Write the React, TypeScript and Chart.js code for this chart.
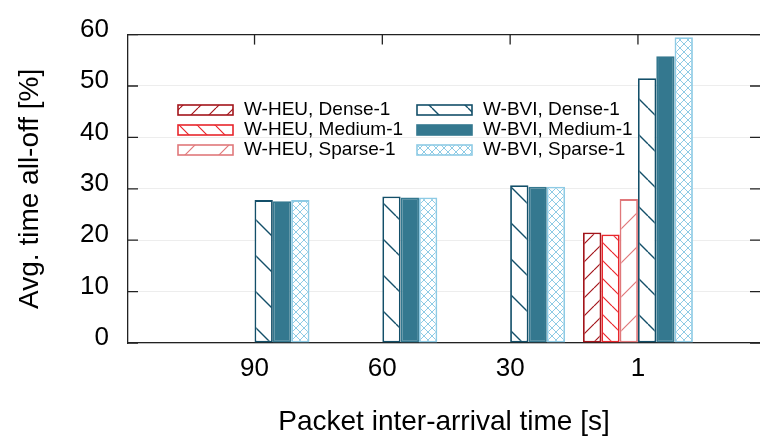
import React, { useEffect, useRef } from 'react';
import { Chart, registerables } from 'chart.js';

Chart.register(...registerables);

const categories = ['90', '60', '30', '1'];
const seriesNames = [
  'W-HEU, Dense-1',
  'W-HEU, Medium-1',
  'W-HEU, Sparse-1',
  'W-BVI, Dense-1',
  'W-BVI, Medium-1',
  'W-BVI, Sparse-1',
];
const heuDense: (number | null)[] = [null, null, null, 21.5];
const heuMedium: (number | null)[] = [null, null, null, 21.1];
const heuSparse: (number | null)[] = [null, null, null, 28.0];
const bviDense: (number | null)[] = [27.8, 28.5, 30.7, 51.5];
const bviMedium: (number | null)[] = [27.6, 28.3, 30.4, 55.8];
const bviSparse: (number | null)[] = [27.8, 28.3, 30.4, 59.5];
const yTicks = [0, 10, 20, 30, 40, 50, 60];

const FONT = '"Liberation Sans", Arial, Helvetica, sans-serif';

type Kind = 'fwd' | 'back' | 'cross' | 'solid';

function makePattern(color: string, kind: Kind, w: number, h: number, lw: number): CanvasPattern | string {
  if (kind === 'solid') return color;
  const c = document.createElement('canvas');
  c.width = w;
  c.height = h;
  const g = c.getContext('2d')!;
  g.fillStyle = '#ffffff';
  g.fillRect(0, 0, w, h);
  g.strokeStyle = color;
  g.lineWidth = lw;
  g.beginPath();
  for (let k = -1; k <= 1; k++) {
    if (kind === 'fwd' || kind === 'cross') {
      g.moveTo(k * w, h);
      g.lineTo(k * w + w, 0);
    }
    if (kind === 'back' || kind === 'cross') {
      g.moveTo(k * w, 0);
      g.lineTo(k * w + w, h);
    }
  }
  g.stroke();
  return g.createPattern(c, 'repeat')!;
}

const toPoints = (arr: (number | null)[]) => arr.map((v, i) => ({ x: i, y: v }));

const framePlugin = {
  id: 'frame',
  afterDraw(chart: any) {
    const { ctx, chartArea: a, scales } = chart;
    ctx.save();
    ctx.strokeStyle = '#222';
    ctx.lineWidth = 1.3;
    ctx.beginPath();
    ctx.moveTo(a.left, a.top);
    ctx.lineTo(a.right, a.top);
    ctx.stroke();
    yTicks.forEach((v) => {
      const y = scales.y.getPixelForValue(v);
      ctx.beginPath();
      ctx.moveTo(a.left, y);
      ctx.lineTo(a.left + 10, y);
      ctx.moveTo(a.right - 10, y);
      ctx.lineTo(a.right, y);
      ctx.stroke();
    });
    categories.forEach((_, i) => {
      const x = scales.x.getPixelForValue(i);
      ctx.beginPath();
      ctx.moveTo(x, a.top);
      ctx.lineTo(x, a.top + 10);
      ctx.stroke();
    });

    // legend (two columns of three)
    const colBoxX = [178, 417];
    const boxW = 55;
    const boxH = 10;
    const rowY = [110, 130, 150];
    ctx.font = `19px ${FONT}`;
    ctx.textBaseline = 'middle';
    ctx.textAlign = 'left';
    chart.data.datasets.forEach((ds: any, i: number) => {
      const col = i < 3 ? 0 : 1;
      const row = i % 3;
      const bx = colBoxX[col];
      const by = rowY[row] - boxH / 2;
      ctx.fillStyle = ds.backgroundColor;
      ctx.fillRect(bx, by, boxW, boxH);
      ctx.strokeStyle = ds.borderColor;
      ctx.lineWidth = 1.6;
      ctx.strokeRect(bx, by, boxW, boxH);
      ctx.fillStyle = '#000';
      ctx.fillText(ds.label, bx + boxW + 11, rowY[row]);
    });
    ctx.restore();
  },
};

export default function App() {
  const ref = useRef<HTMLCanvasElement>(null);

  useEffect(() => {
    if (!ref.current) return;
    const styles = [
      { color: '#a3151b', pat: makePattern('#a3151b', 'fwd', 18, 18, 1.2) },
      { color: '#e8262c', pat: makePattern('#e8262c', 'back', 18, 18, 1.2) },
      { color: '#e0787b', pat: makePattern('#e0787b', 'fwd', 34, 34, 1.2) },
      { color: '#134f69', pat: makePattern('#134f69', 'back', 36, 36, 1.4) },
      { color: '#34788f', pat: makePattern('#34788f', 'solid', 1, 1, 1) },
      { color: '#8ecbe5', pat: makePattern('#8ecbe5', 'cross', 8, 8, 1) },
    ];
    const series = [heuDense, heuMedium, heuSparse, bviDense, bviMedium, bviSparse];

    const chart = new Chart(ref.current, {
      type: 'bar',
      data: {
        datasets: series.map((s, i) => ({
          label: seriesNames[i],
          data: toPoints(s) as any,
          backgroundColor: styles[i].pat as any,
          borderColor: styles[i].color,
          borderWidth: 1.8,
          borderSkipped: false,
          barPercentage: 1,
          categoryPercentage: 0.86,
        })),
      },
      options: {
        responsive: false,
        animation: false,
        layout: { padding: { left: 0, right: 0, top: 25, bottom: 0 } },
        plugins: { legend: { display: false }, tooltip: { enabled: false } },
        scales: {
          x: {
            type: 'linear',
            min: -0.99,
            max: 3.955,
            offset: false,
            grid: { display: false, drawTicks: false },
            border: { display: true, color: '#222', width: 1.3 },
            afterBuildTicks: (s: any) => {
              s.ticks = categories.map((_, i) => ({ value: i }));
            },
            afterFit: (s: any) => {
              s.height = 96;
            },
            ticks: {
              autoSkip: false,
              maxRotation: 0,
              padding: 10,
              color: '#000',
              font: { size: 26, family: FONT },
              callback: (v: any) => categories[v as number] ?? '',
            },
            title: {
              display: true,
              text: 'Packet inter-arrival time [s]',
              color: '#000',
              font: { size: 28, family: FONT },
              padding: { top: 5, bottom: 0 },
            },
          } as any,
          y: {
            min: 0,
            max: 60,
            grid: { color: '#ededed', drawTicks: false },
            border: { display: true, color: '#222', width: 1.3 },
            afterFit: (s: any) => {
              s.width = 128;
            },
            ticks: {
              stepSize: 10,
              padding: 19,
              labelOffset: -5,
              color: '#000',
              font: { size: 26, family: FONT },
            },
            title: {
              display: true,
              text: 'Avg. time all-off [%]',
              color: '#000',
              font: { size: 28, family: FONT },
              padding: { top: 13, bottom: 0 },
            },
          } as any,
        },
      },
      plugins: [framePlugin],
    });
    return () => chart.destroy();
  }, []);

  return (
    <div style={{ position: 'fixed', left: 0, top: 0, width: 760, height: 439, background: '#fff' }}>
      <canvas ref={ref} width={760} height={439} style={{ display: 'block' }} />
    </div>
  );
}
